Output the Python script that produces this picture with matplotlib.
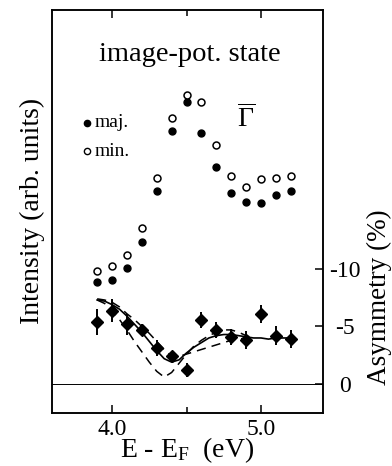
"""Image-potential state: spin-resolved intensity and asymmetry vs energy."""

import matplotlib

matplotlib.use("Agg", force=True)
import matplotlib.pyplot as plt

plt.rcParams["font.family"] = ["Liberation Serif", "DejaVu Serif"]
plt.rcParams["mathtext.fontset"] = "custom"
plt.rcParams["mathtext.rm"] = "Liberation Serif"
plt.rcParams["mathtext.it"] = "Liberation Serif:italic"
plt.rcParams["axes.unicode_minus"] = False

# intensity spectra (arb. units)
energy = [3.9, 4.0, 4.1, 4.2, 4.3, 4.4, 4.5, 4.6, 4.7, 4.8, 4.9, 5.0, 5.1, 5.2]
maj_intensity = [32.4, 33.0, 36.1, 42.4, 55.2, 70.0, 77.1, 69.6, 61.0, 54.5, 52.4, 52.0, 54.2, 55.1]
min_intensity = [35.3, 36.6, 39.2, 46.0, 58.3, 73.3, 78.8, 77.1, 66.4, 58.7, 56.0, 58.0, 58.4, 58.9]

# measured asymmetry (%) with error bars
asym = [-5.4, -6.35, -5.2, -4.7, -3.1, -2.4, -1.2, -5.6, -4.7, -4.1, -3.8, -6.1, -4.2, -3.9]
asym_err = [1.1, 1.0, 0.9, 0.5, 0.7, 0.5, 0.6, 0.7, 0.7, 0.7, 0.8, 0.8, 0.8, 0.8]

# model curves
fit_e = [3.90, 3.95, 4.00, 4.05, 4.10, 4.15, 4.20, 4.25, 4.30, 4.35, 4.40, 4.45, 4.50,
         4.55, 4.60, 4.65, 4.70, 4.75, 4.80, 4.85, 4.90, 4.95, 5.00, 5.05, 5.10, 5.15, 5.20]
fit_solid = [-7.3, -7.2, -6.9, -6.5, -5.9, -5.2, -4.5, -3.7, -2.9, -2.2, -1.9, -2.1, -2.7,
             -3.2, -3.6, -4.0, -4.2, -4.3, -4.3, -4.2, -4.1, -4.0, -4.0, -3.9, -4.0, -4.0, -4.0]
deep_e = [3.90, 3.95, 4.00, 4.05, 4.10, 4.15, 4.20, 4.25, 4.30, 4.35, 4.40, 4.45, 4.50,
          4.55, 4.60, 4.65, 4.70, 4.75, 4.80, 4.85, 4.90, 4.95]
fit_deep = [-7.3, -7.0, -6.4, -5.6, -4.7, -3.7, -2.8, -1.9, -1.1, -0.6, -1.0, -1.8, -2.6,
            -3.3, -3.8, -4.2, -4.5, -4.7, -4.7, -4.5, -4.2, -4.0]
shallow_e = [3.90, 3.95, 4.00, 4.05, 4.10, 4.15, 4.20, 4.25, 4.30, 4.35, 4.40, 4.45, 4.50,
             4.55, 4.60, 4.65, 4.70, 4.75, 4.80, 4.85, 4.90]
fit_shallow = [-7.4, -7.3, -7.1, -6.7, -6.1, -5.6, -5.0, -4.4, -3.7, -3.0, -2.4, -2.4, -2.6,
               -2.8, -3.0, -3.2, -3.4, -3.6, -3.8, -3.9, -4.0]

fig = plt.figure(figsize=(3.92, 4.66), dpi=100)
ax = fig.add_axes([52 / 392, 53 / 466, 271 / 392, 403 / 466])
ax2 = ax.twinx()

ax.set_xlim(3.597, 5.416)
ax.set_ylim(0, 100)
ax2.set_ylim(2.52, -32.5)

ax.plot(energy, maj_intensity, "o", color="black", markersize=5)
ax.plot(energy, min_intensity, "o", markerfacecolor="white", markeredgecolor="black",
        markeredgewidth=1.1, markersize=5)

ax2.axhline(0, color="black", linewidth=0.7)
ax2.plot(fit_e, fit_solid, color="black", linewidth=1.2)
ax2.plot(deep_e, fit_deep, color="black", linewidth=1.1, dashes=(6, 4))
ax2.plot(shallow_e, fit_shallow, color="black", linewidth=1.1, dashes=(6, 4))
ax2.errorbar(energy, asym, yerr=asym_err, fmt="D", color="black", markersize=6,
             elinewidth=1.4, capsize=0)

for spine in list(ax.spines.values()) + list(ax2.spines.values()):
    spine.set_linewidth(1.1)

ax.set_yticks([])
ax.set_xticks([4.0, 5.0], ["4.0", "5.0"])
ax.set_xticks([4.5], minor=True)
ax.tick_params(axis="x", which="both", direction="in", top=True, labelsize=17,
               width=1.1, pad=4)
ax.tick_params(axis="x", which="major", length=6)
ax.tick_params(axis="x", which="minor", length=4.5)

ax2.set_yticks([-10, -5, 0], ["-10", "-5", "0"])
ax2.tick_params(axis="y", direction="in", length=6, width=1.1, labelsize=17, pad=16)
for lab in ax2.get_yticklabels():
    lab.set_horizontalalignment("center")

ax.set_xlabel(r"E - E$_\mathrm{F}$  (eV)", fontsize=20, labelpad=-3)

fig.text(32 / 392, 1 - 211 / 466, "Intensity (arb. units)", rotation=90,
         ha="center", va="center", fontsize=20)
fig.text(379 / 392, 1 - 297 / 466, "Asymmetry (%)", rotation=90,
         ha="center", va="center", fontsize=19.5)

ax.text(0.51, 0.89, "image-pot. state", transform=ax.transAxes, ha="center",
        va="center", fontsize=20.5)
ax.text(0.716, 0.73, r"$\overline{\mathrm{\Gamma}}$", transform=ax.transAxes,
        ha="center", va="center", fontsize=20)

ax.plot([0.129], [0.72], "o", color="black", markersize=4.5, transform=ax.transAxes)
ax.plot([0.129], [0.65], "o", markerfacecolor="white", markeredgecolor="black",
        markeredgewidth=1.0, markersize=4.5, transform=ax.transAxes)
ax.text(0.158, 0.72, "maj.", transform=ax.transAxes, va="center", fontsize=14)
ax.text(0.158, 0.65, "min.", transform=ax.transAxes, va="center", fontsize=14)

fig.savefig("out.png", dpi=100)
plt.close(fig)
